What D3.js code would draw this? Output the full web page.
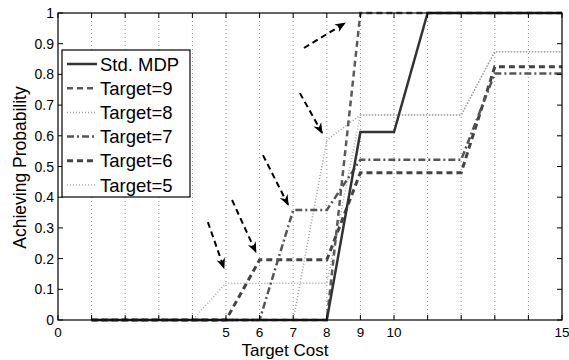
<!DOCTYPE html>
<html><head><meta charset="utf-8">
<script src="https://cdn.jsdelivr.net/npm/d3@7"></script>
<style>
html,body{margin:0;padding:0;background:#fff;}
svg{display:block;font-family:"Liberation Sans",Arial,Helvetica,sans-serif;}
</style></head>
<body>
<script>
// ---- data ----
const xValues = [1,2,3,4,5,6,7,8,9,10,11,12,13,14,15];
const stdMDP  = [0,0,0,0,0,0,0,0,0.612,0.612,1,1,1,1,1];
const target9 = [0,0,0,0,0,0,0,0,1,1,1,1,1,1,1];
const target8 = [0,0,0,0,0,0,0,0.586,0.668,0.668,0.668,0.668,0.874,0.874,0.874];
const target7 = [0,0,0,0,0,0,0.358,0.358,0.522,0.522,0.522,0.522,0.803,0.803,0.803];
const target6 = [0,0,0,0,0,0.196,0.196,0.196,0.48,0.48,0.48,0.48,0.825,0.825,0.825];
const target5 = [0,0,0,0,0.12,0.12,0.12,0.12,0.668,0.668,0.668,0.668,0.874,0.874,0.874];
const seriesNames = ["Std. MDP","Target=9","Target=8","Target=7","Target=6","Target=5"];
const xTickLabels = [0,5,6,7,8,9,10,15];
const yTickLabels = [0,0.1,0.2,0.3,0.4,0.5,0.6,0.7,0.8,0.9,1];
// annotation arrows [x0,y0,x1,y1] in data units
const arrows = [
  [4.46,0.319,4.94,0.169],
  [5.18,0.391,5.89,0.221],
  [6.10,0.537,6.85,0.375],
  [7.20,0.739,7.86,0.609],
  [7.32,0.886,8.54,0.967]
];

// ---- styles ----
const styles = [
  {color:"#333", width:2.5, dash:null},
  {color:"#5a5a5a", width:2.5, dash:"6,4"},
  {color:"#9a9a9a", width:1.5, dash:"1,2"},
  {color:"#555", width:2.5, dash:"7,3,2,3"},
  {color:"#444", width:3, dash:"6,4"},
  {color:"#aaaaaa", width:1.5, dash:"1,2"}
];
const seriesData = [stdMDP,target9,target8,target7,target6,target5];

const W=569,H=360;
const L=58,R=562,T=13,B=320;
const svg=d3.select("body").append("svg").attr("width",W).attr("height",H);
const x=d3.scaleLinear().domain([0,15]).range([L,R]);
const y=d3.scaleLinear().domain([0,1]).range([B,T]);

// grid
const gridX=d3.range(1,15);
svg.append("g").selectAll("line").data(gridX).join("line")
  .attr("x1",d=>x(d)).attr("x2",d=>x(d)).attr("y1",T).attr("y2",B)
  .attr("stroke","#8a8a8a").attr("stroke-width",1).attr("stroke-dasharray","1,3");

// series (draw in reverse so Std. MDP on top)
const line=d3.line().x((d,i)=>x(xValues[i])).y(d=>y(d));
const order=[5,2,4,3,1,0];
order.forEach(k=>{
  const s=styles[k];
  svg.append("path").datum(seriesData[k]).attr("d",line)
    .attr("fill","none").attr("stroke",s.color).attr("stroke-width",s.width)
    .attr("stroke-dasharray",s.dash).attr("stroke-linejoin","miter");
});

// arrows
const defs=svg.append("defs");
defs.append("marker").attr("id","ah").attr("viewBox","0 0 10 10").attr("refX",9).attr("refY",5)
  .attr("markerWidth",11).attr("markerHeight",11).attr("markerUnits","userSpaceOnUse").attr("orient","auto")
  .append("path").attr("d","M0,1 L10,5 L0,9 L3,5 Z").attr("fill","#000");
svg.append("g").selectAll("line").data(arrows).join("line")
  .attr("x1",d=>x(d[0])).attr("y1",d=>y(d[1])).attr("x2",d=>x(d[2])).attr("y2",d=>y(d[3]))
  .attr("stroke","#000").attr("stroke-width",2).attr("stroke-dasharray","6,4")
  .attr("marker-end","url(#ah)");

// axes box
svg.append("rect").attr("x",L).attr("y",T).attr("width",R-L).attr("height",B-T)
  .attr("fill","none").attr("stroke","#000").attr("stroke-width",1.2);

// ticks
const xt=d3.range(0,16);
const tk=svg.append("g").attr("stroke","#000").attr("stroke-width",1);
xt.forEach(v=>{
  tk.append("line").attr("x1",x(v)).attr("x2",x(v)).attr("y1",B).attr("y2",B-5);
  tk.append("line").attr("x1",x(v)).attr("x2",x(v)).attr("y1",T).attr("y2",T+5);
});
yTickLabels.forEach(v=>{
  tk.append("line").attr("x1",L).attr("x2",L+5).attr("y1",y(v)).attr("y2",y(v));
  tk.append("line").attr("x1",R).attr("x2",R-5).attr("y1",y(v)).attr("y2",y(v));
});
svg.append("g").selectAll("text").data(xTickLabels).join("text")
  .attr("x",d=>x(d)).attr("y",B+16.5).attr("text-anchor","middle")
  .attr("font-size",13.5).attr("fill","#000").text(d=>d);
svg.append("g").selectAll("text").data(yTickLabels).join("text")
  .attr("x",L-4).attr("y",d=>y(d)+5).attr("text-anchor","end")
  .attr("font-size",14).attr("fill","#000").text(d=>d);

// axis labels
svg.append("text").attr("x",(L+R)/2-25).attr("y",B+36).attr("text-anchor","middle")
  .attr("font-size",17).attr("fill","#000").text("Target Cost");
svg.append("text").attr("transform",`translate(26,${(T+B)/2+1}) rotate(-90)`).attr("text-anchor","middle")
  .attr("font-size",17.5).attr("fill","#000").text("Achieving Probability");

// legend
const lg=svg.append("g");
lg.append("rect").attr("x",62).attr("y",50).attr("width",128).attr("height",147)
  .attr("fill","#fff").attr("stroke","#000").attr("stroke-width",1.2);
seriesNames.forEach((n,i)=>{
  const cy=64+i*24.2;
  const s=styles[i];
  lg.append("line").attr("x1",67).attr("x2",97).attr("y1",cy).attr("y2",cy)
    .attr("stroke",s.color).attr("stroke-width",s.width).attr("stroke-dasharray",s.dash);
  lg.append("text").attr("x",100).attr("y",cy+6.5).attr("font-size",18.5).attr("fill","#000").text(n);
});
</script>
</body></html>
